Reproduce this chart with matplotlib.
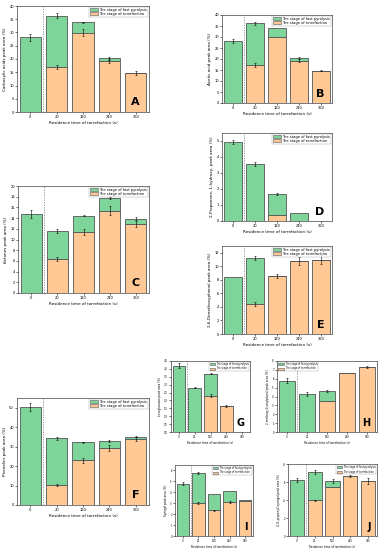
import matplotlib
matplotlib.use("Agg")
import matplotlib.pyplot as plt
from matplotlib.patches import Patch
import numpy as np

plt.rcParams['font.family'] = ['DejaVu Sans']

categories = ["0", "20", "120", "240", "360"]
xlabel_text = "Residence time of torrefaction (s)"
legend_pyro = "The stage of fast pyrolysis"
legend_torr = "The stage of torrefaction"

# Panel A: carboxylic acids
A_torr = [0, 17.0, 30.0, 19.2, 14.6]
A_pyro = [28.2, 19.3, 3.8, 1.0, 0]
A_err_torr = [0, 0.8, 1.5, 0.7, 0.7]
A_err_tot = [1.4, 1.0, 0.3, 0.4, 0]

# Panel B: acetic acid
B_torr = [0, 17.2, 30.0, 19.2, 14.7]
B_pyro = [28.2, 19.0, 4.0, 1.1, 0]
B_err_torr = [0, 0.8, 0, 0.7, 0.3]
B_err_tot = [1.0, 0.7, 0, 0.5, 0]

# Panel C: ketones
C_torr = [0, 6.3, 11.4, 15.4, 12.9]
C_pyro = [14.8, 5.3, 3.0, 2.4, 1.0]
C_err_torr = [0, 0.4, 0.6, 0.8, 0.6]
C_err_tot = [0.7, 0.3, 0.1, 0.2, 0.3]

# Panel D: 2-propanone, 1-hydroxy-
D_torr = [0, 0, 0.38, 0, 0]
D_pyro = [4.95, 3.58, 1.31, 0.48, 0]
D_err_torr = [0, 0, 0, 0, 0]
D_err_tot = [0.12, 0.12, 0.05, 0, 0]

# Panel E
E_torr = [0, 4.5, 8.6, 10.8, 11.0]
E_pyro = [8.4, 6.7, 0, 0, 0]
E_err_torr = [0, 0.3, 0.3, 0.6, 0.6]
E_err_tot = [0, 0.3, 0, 0, 0]

# Panel F: phenolics
F_torr = [0, 10.4, 23.0, 29.3, 34.0]
F_pyro = [50.3, 24.0, 9.2, 3.7, 1.0]
F_err_torr = [0, 0.4, 1.2, 1.7, 1.0]
F_err_tot = [2.0, 0.8, 0.4, 0.4, 0.3]

# Panel G
G_torr = [0, 0, 2.3, 1.65, 0]
G_pyro = [4.2, 2.8, 1.4, 0, 0]
G_err_torr = [0, 0, 0.08, 0.08, 0]
G_err_tot = [0.15, 0.04, 0.04, 0, 0]

# Panel H
H_torr = [0, 0, 3.5, 6.6, 7.3]
H_pyro = [5.8, 4.3, 1.1, 0, 0]
H_err_torr = [0, 0, 0, 0, 0.1]
H_err_tot = [0.3, 0.2, 0.1, 0, 0]

# Panel I
I_torr = [0, 3.0, 2.35, 3.1, 3.25]
I_pyro = [4.8, 2.8, 1.45, 1.0, 0.05]
I_err_torr = [0, 0.1, 0.05, 0.1, 0]
I_err_tot = [0.15, 0.1, 0, 0, 0]

# Panel J
J_torr = [0, 3.95, 5.4, 6.7, 6.1]
J_pyro = [6.2, 3.15, 0.7, 0, 0]
J_err_torr = [0, 0.1, 0, 0, 0]
J_err_tot = [0.25, 0.2, 0.2, 0.1, 0.3]

GREEN = "#7ED59A"
ORANGE = "#FFC894"
EDGE = "#555555"

W, H = 380, 550
fig = plt.figure(figsize=(W / 100, H / 100), dpi=100)


def rect(l, t, r, b):
    return [l / W, 1 - b / H, (r - l) / W, (b - t) / H]


def panel(box, torr, pyro, et, etot, ylim, yticks, ylabel, letter,
          legend_loc="upper right", fs=2.6, lfs=3.0, letter_fs=8):
    ax = fig.add_axes(rect(*box))
    x = np.arange(len(categories))
    torr = np.array(torr, float)
    pyro = np.array(pyro, float)
    ax.bar(x, torr, 0.8, color=ORANGE, edgecolor=EDGE, linewidth=0.6, zorder=2)
    ax.bar(x, pyro, 0.8, bottom=torr, color=GREEN, edgecolor=EDGE,
           linewidth=0.6, zorder=2)
    for i in range(len(x)):
        if et[i] > 0:
            ax.errorbar(x[i], torr[i], yerr=et[i], color="k", lw=0.4,
                        capsize=0.8, capthick=0.4, zorder=3)
        if etot[i] > 0:
            ax.errorbar(x[i], torr[i] + pyro[i], yerr=etot[i], color="k",
                        lw=0.4, capsize=0.8, capthick=0.4, zorder=3)
    ax.axvline(0.5, color="#888888", lw=0.6, ls=(0, (1.5, 1.5)), zorder=1)
    ax.set_xlim(-0.5, 4.5)
    ax.set_ylim(*ylim)
    ax.set_yticks(yticks)
    ax.set_xticks(x)
    ax.set_xticklabels(categories)
    ax.tick_params(labelsize=fs, length=1.2, width=0.4, pad=1)
    for s in ax.spines.values():
        s.set_linewidth(0.5)
        s.set_color("#444444")
    ax.set_xlabel(xlabel_text, fontsize=lfs, labelpad=1.5)
    ax.set_ylabel(ylabel, fontsize=lfs, labelpad=1.5)
    handles = [Patch(facecolor=GREEN, edgecolor=EDGE, linewidth=0.4),
               Patch(facecolor=ORANGE, edgecolor=EDGE, linewidth=0.4)]
    leg = ax.legend(handles, [legend_pyro, legend_torr], loc=legend_loc,
                    fontsize=fs, frameon=True, fancybox=False,
                    borderaxespad=0.3, handlelength=2.2, handleheight=0.9,
                    borderpad=0.2, labelspacing=0.1, handletextpad=0.4)
    leg.get_frame().set_linewidth(0.3)
    leg.get_frame().set_edgecolor("#888888")
    ax.text(0.93, 0.05, letter, transform=ax.transAxes, ha="right",
            va="bottom", fontsize=letter_fs, fontweight="bold")
    return ax


panel((17, 6, 149, 112), A_torr, A_pyro, A_err_torr, A_err_tot,
      (0, 40), range(0, 41, 5), "Carboxylic acids peak area (%)", "A")
panel((222, 15, 332, 103), B_torr, B_pyro, B_err_torr, B_err_tot,
      (0, 40), range(0, 41, 5), "Acetic acid peak area (%)", "B")
panel((18, 186, 149, 293), C_torr, C_pyro, C_err_torr, C_err_tot,
      (0, 20), range(0, 21, 2), "Ketones peak area (%)", "C")
panel((222, 133, 332, 221), D_torr, D_pyro, D_err_torr, D_err_tot,
      (0, 5.5), range(0, 6), "2-Propanone, 1-hydroxy- peak area (%)", "D")
panel((222, 246, 332, 334), E_torr, E_pyro, E_err_torr, E_err_tot,
      (0, 13), range(0, 13, 2), "2,6-Dimethoxyphenol peak area (%)", "E")
panel((17, 398, 149, 505), F_torr, F_pyro, F_err_torr, F_err_tot,
      (0, 55), range(0, 51, 10), "Phenolics peak area (%)", "F")
panel((171, 361, 250, 432), G_torr, G_pyro, G_err_torr, G_err_tot,
      (0, 4.5), np.arange(0, 4.6, 0.5), "Levoglucosan peak area (%)", "G",
      fs=1.8, lfs=2.0, letter_fs=7)
panel((277, 361, 377, 432), H_torr, H_pyro, H_err_torr, H_err_tot,
      (0, 8), range(0, 9), "2-methoxy-4-vinylphenol peak area (%)", "H",
      legend_loc="upper left", fs=1.8, lfs=2.0, letter_fs=7)
panel((175, 465, 253, 536), I_torr, I_pyro, I_err_torr, I_err_tot,
      (0, 6.5), range(0, 7), "Syringol peak area (%)", "I",
      fs=1.8, lfs=2.0, letter_fs=7)
panel((288, 464, 377, 536), J_torr, J_pyro, J_err_torr, J_err_tot,
      (0, 8), range(0, 9, 2), "4-(1-propenyl)-syringol peak area (%)", "J",
      fs=1.8, lfs=2.0, letter_fs=7)

fig.savefig("out.png", dpi=100)
